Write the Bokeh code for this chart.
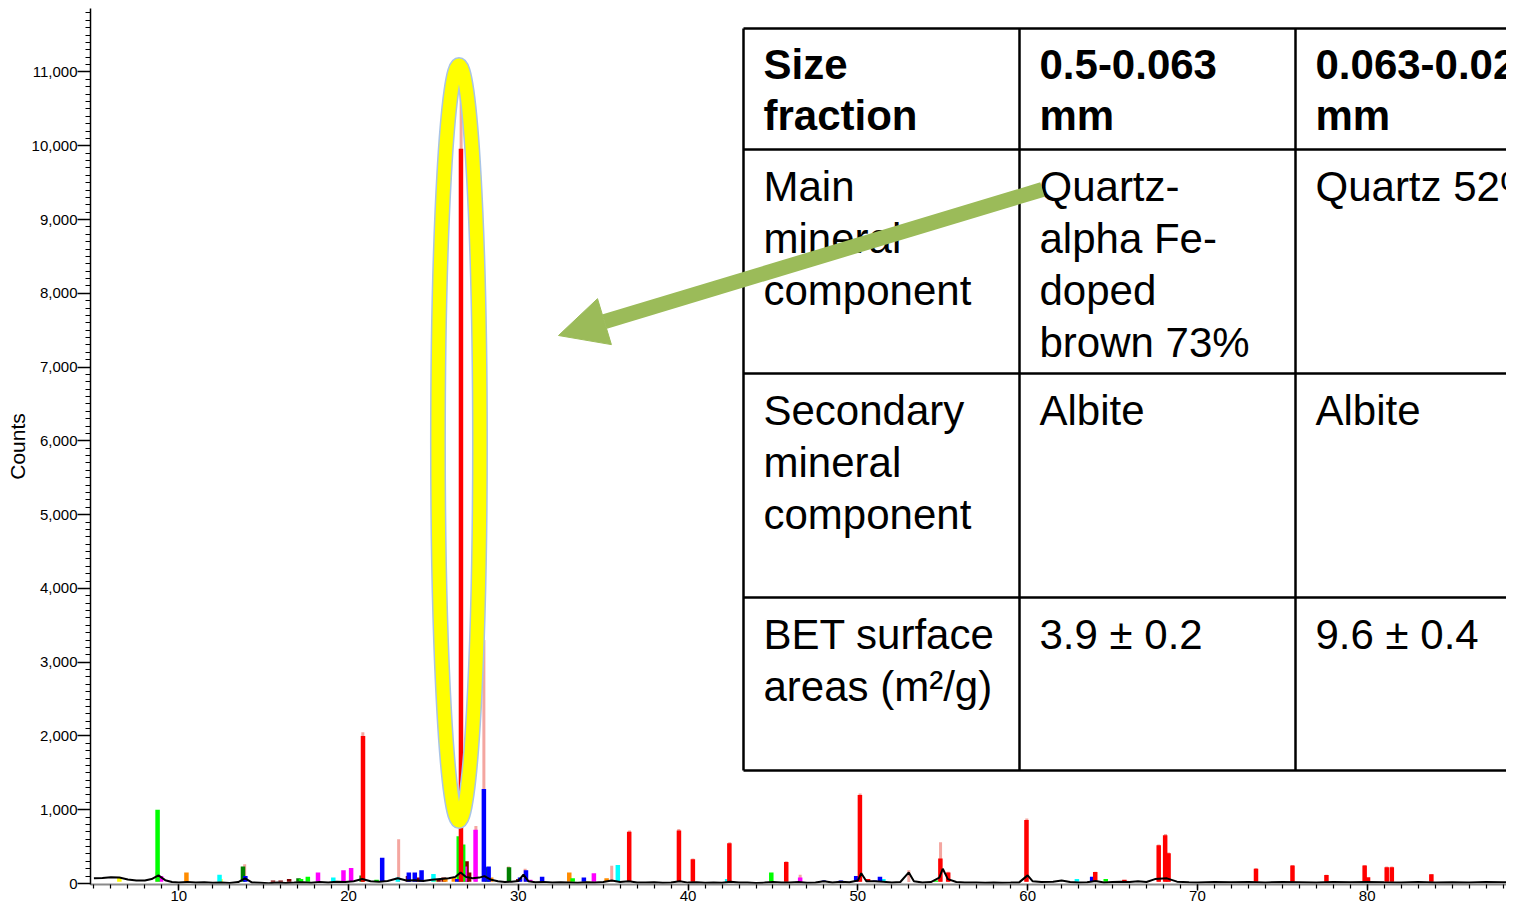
from bokeh.plotting import figure
from bokeh.models import (Range1d, SingleIntervalTicker, NumeralTickFormatter,
                          Arrow, NormalHead, ColumnDataSource)
from bokeh.core.properties import value
from bokeh.embed import file_html
from bokeh.resources import INLINE

# ---------------- data ----------------
# measured pattern (black trace), 2theta in degrees, counts
bg_2theta = [5.0, 5.5, 6.0, 6.5, 7.0, 7.5, 8.0, 8.4, 8.8, 9.2, 9.6, 10.0, 10.5, 11.0, 11.5,
             12.0, 12.5, 13.0, 13.5, 13.9, 14.3, 14.8, 15.3, 15.8, 16.3, 16.8, 17.3, 17.8,
             18.3, 18.8, 19.3, 19.8, 20.3, 20.8, 21.3, 21.8, 22.3, 22.9, 23.4, 23.9, 24.4,
             24.9, 25.4, 25.9, 26.3, 26.6, 26.9, 27.3, 27.7, 28.0, 28.4, 28.8, 29.2, 29.6,
             30.0, 30.3, 30.6, 31.0, 31.5, 32.0, 32.5, 33.0, 33.5, 34.0, 34.5, 35.0, 35.5,
             36.0, 36.5, 37.0, 37.5, 38.0, 38.5, 39.0, 39.5, 40.0, 40.5, 41.0, 41.5, 42.0,
             42.5, 43.0, 43.5, 44.0, 44.5, 45.0, 45.5, 46.0, 46.5, 47.0, 47.5, 48.0, 48.5,
             49.0, 49.5, 50.0, 50.2, 50.5, 51.0, 51.5, 52.0, 52.5, 53.0, 53.3, 53.8, 54.3,
             54.8, 55.0, 55.3, 55.8, 56.3, 57.0, 57.5, 58.0, 58.5, 59.0, 59.5, 60.0, 60.3,
             60.8, 61.5, 62.0, 62.5, 63.0, 63.5, 64.0, 64.5, 65.0, 65.5, 66.0, 66.5, 67.0,
             67.5, 68.2, 68.8, 69.5, 70.0, 71.0, 72.0, 73.0, 74.0, 75.0, 76.0, 77.0, 78.0,
             79.0, 80.0, 81.0, 82.0, 83.0, 84.0, 85.0, 86.0, 87.0, 88.0, 89.0]
bg_counts = [70, 75, 85, 80, 55, 40, 40, 60, 110, 45, 20, 15, 22, 12, 18,
             10, 15, 8, 20, 70, 15, 10, 5, 12, 8, 12, 18, 10,
             22, 14, 25, 20, 30, 60, 30, 25, 35, 70, 40, 45, 35,
             50, 60, 70, 90, 150, 90, 70, 80, 100, 50, 30, 20, 25,
             35, 120, 30, 18, 22, 12, 18, 15, 10, 18, 12, 20, 40,
             20, 30, 15, 12, 18, 10, 15, 30, 12, 18, 10, 14, 10,
             25, 12, 15, 8, 12, 20, 12, 15, 20, 10, 14, 30, 15,
             25, 18, 40, 140, 30, 30, 25, 15, 20, 150, 30, 15, 20,
             80, 200, 60, 20, 12, 15, 10, 14, 10, 12, 15, 110, 30,
             20, 25, 40, 20, 15, 18, 35, 15, 20, 25, 20, 30, 20,
             60, 70, 25, 18, 15, 20, 18, 22, 15, 20, 18, 14, 20,
             16, 22, 18, 15, 20, 14, 18, 15, 20, 16, 18]

# calculated profile (light red), peak positions and apex counts
prof_2theta = [8.72, 13.88, 20.84, 22.95, 26.63, 27.50, 27.97, 29.42, 30.40, 35.50,
               36.55, 39.45, 40.28, 42.45, 45.78, 46.60, 50.13, 53.00, 54.87, 55.32,
               59.95, 64.00, 67.72, 68.12, 68.30, 73.45, 75.60, 77.60, 79.85, 81.15,
               81.45, 83.80]
prof_counts = [160, 260, 2050, 600, 10800, 780, 3300, 230, 200, 240,
               720, 740, 340, 560, 300, 120, 1220, 180, 560, 160,
               880, 160, 530, 670, 420, 210, 250, 120, 250, 230,
               230, 130]

# reference sticks per phase (2theta, counts)
red_pos = [20.85, 26.62, 36.53, 39.46, 40.28, 42.43, 45.78, 50.12, 50.60, 54.86, 55.32,
           59.93, 63.98, 65.70, 67.72, 68.10, 68.30, 73.45, 75.60, 77.60, 79.85, 80.05,
           81.15, 81.45, 83.78]
red_cnt = [2000, 9960, 700, 720, 330, 545, 290, 1200, 60, 340, 150,
           860, 155, 50, 520, 655, 410, 200, 245, 115, 245, 85,
           220, 220, 125]
green_pos = [8.75, 17.20, 17.60, 21.65, 26.49, 26.75, 33.20, 44.90, 54.60, 64.60]
green_cnt = [1000, 60, 90, 50, 640, 530, 70, 150, 40, 60]
dkgreen_pos = [13.78, 17.05, 20.77, 28.16, 29.45]
dkgreen_cnt = [230, 70, 110, 220, 220]
blue_pos = [13.92, 21.98, 23.55, 23.90, 24.30, 26.40, 27.97, 28.25, 30.10, 30.45, 31.40,
            33.86, 48.00, 49.00, 49.90, 51.00, 51.30, 63.80]
blue_cnt = [100, 350, 150, 150, 180, 60, 1280, 230, 80, 180, 90,
            80, 40, 40, 100, 40, 90, 90]
magenta_pos = [8.95, 18.20, 19.70, 20.15, 22.00, 26.85, 27.48, 30.70, 34.45, 46.60]
magenta_cnt = [100, 150, 180, 210, 40, 230, 730, 50, 140, 80]
cyan_pos = [12.40, 19.10, 22.90, 25.00, 31.70, 35.86, 42.30, 51.50, 62.90]
cyan_cnt = [120, 80, 80, 130, 20, 250, 60, 60, 60]
yellow_pos = [6.50, 12.45, 25.05, 34.10]
yellow_cnt = [80, 60, 60, 30]
orange_pos = [10.45, 25.70, 26.20, 28.40, 33.00, 35.20]
orange_cnt = [150, 70, 80, 80, 150, 70]
dkred_pos = [15.55, 16.00, 16.50, 23.50, 24.10, 25.30, 25.60, 26.95, 27.10, 30.00]
dkred_cnt = [40, 40, 60, 100, 80, 50, 80, 300, 150, 60]

# inset table
table_header = ["Size\nfraction", "0.5-0.063\nmm", "0.063-0.02\nmm"]
row_main = ["Main\nmineral\ncomponent", "Quartz-\nalpha Fe-\ndoped\nbrown 73%", "Quartz 52%"]
row_secondary = ["Secondary\nmineral\ncomponent", "Albite", "Albite"]
row_bet = ["BET surface\nareas (m\u00b2/g)", "3.9 \u00b1 0.2", "9.6 \u00b1 0.4"]

# ---------------- layout (pixels of the picture) ----------------
W, H = 1506, 908
SX = 16.977        # px per degree
PX0 = 8.53         # pixel x of 0 deg
SY = 0.073773      # px per count
PY0 = 883.0        # pixel y of 0 counts
FRAME_L, FRAME_T, FRAME_B = 90, 8, 884

def X(px):
    return (px - PX0) / SX

def Y(py):
    return (PY0 - py) / SY

p = figure(width=W, height=H, output_backend="svg", toolbar_location=None,
           x_range=Range1d(X(FRAME_L), X(W)),
           y_range=Range1d(Y(FRAME_B), Y(FRAME_T)),
           min_border_left=FRAME_L, min_border_right=0,
           min_border_top=FRAME_T, min_border_bottom=H - FRAME_B)
p.outline_line_color = None
p.xgrid.visible = False
p.ygrid.visible = False
p.background_fill_color = "white"

FONT = "Liberation Sans"
xa = p.xaxis[0]
xa.ticker = SingleIntervalTicker(interval=10, num_minor_ticks=10)
xa.major_tick_out = 6
xa.major_tick_in = 0
xa.minor_tick_out = 4
xa.minor_tick_in = 0
xa.major_label_standoff = 0
xa.major_label_text_font = FONT
xa.major_label_text_font_size = "15px"
xa.major_label_text_color = "black"
xa.axis_line_color = "#8a8a8a"
xa.axis_line_width = 2
xa.major_tick_line_color = "black"
xa.major_tick_line_width = 1.5
xa.minor_tick_line_color = "black"
xa.minor_tick_line_width = 1.2

ya = p.yaxis[0]
ya.ticker = SingleIntervalTicker(interval=1000, num_minor_ticks=10)
ya.formatter = NumeralTickFormatter(format="0,0")
ya.major_tick_out = 13
ya.major_tick_in = 0
ya.minor_tick_out = 5
ya.minor_tick_in = 0
ya.major_label_standoff = 0
ya.major_label_text_font = FONT
ya.major_label_text_font_size = "15px"
ya.major_label_text_color = "black"
ya.axis_line_color = "black"
ya.axis_line_width = 1.5
ya.major_tick_line_width = 1.5
ya.minor_tick_line_width = 1.2
ya.axis_label = "Counts"
ya.axis_label_standoff = 0
ya.axis_label_text_font = FONT
ya.axis_label_text_font_size = "21px"
ya.axis_label_text_font_style = "normal"
ya.axis_label_text_color = "black"

# calculated profile
prof_src = ColumnDataSource(dict(x=prof_2theta, top=prof_counts, base=[20] * len(prof_2theta)))
p.segment(x0="x", y0="base", x1="x", y1="top", source=prof_src,
          line_color="#F08078", line_alpha=0.7, line_width=3)

# sticks
STICK_BASE = 25
phases = [
    (dkred_pos, dkred_cnt, "#800000"),
    (orange_pos, orange_cnt, "#FF8C00"),
    (yellow_pos, yellow_cnt, "#FFFF00"),
    (cyan_pos, cyan_cnt, "#00FFFF"),
    (magenta_pos, magenta_cnt, "#FF00FF"),
    (dkgreen_pos, dkgreen_cnt, "#008000"),
    (green_pos, green_cnt, "#00FF00"),
    (blue_pos, blue_cnt, "#0000FF"),
    (red_pos, red_cnt, "#FF0000"),
]
for pos, cnt, col in phases:
    src = ColumnDataSource(dict(x=pos, top=cnt, base=[STICK_BASE] * len(pos)))
    p.segment(x0="x", y0="base", x1="x", y1="top", source=src,
              line_color=col, line_width=4.5, line_cap="butt")

# measured trace
p.line(bg_2theta, bg_counts, line_color="black", line_width=2)

# highlight ellipse around the main quartz peak
main_peak = red_pos[red_cnt.index(max(red_cnt))]
ell_cx = main_peak - 2.0 / SX
ell_cy = Y(442.5)
ell_w = 42 / SX
ell_h = 756 / SY
p.ellipse(x=[ell_cx], y=[ell_cy], width=[ell_w], height=[ell_h],
          fill_color=None, line_color="#a8c4e6", line_width=16)
p.ellipse(x=[ell_cx], y=[ell_cy], width=[ell_w], height=[ell_h],
          fill_color=None, line_color="#FFFF00", line_width=13)

# table
col_edges = [743, 1019, 1295]
row_edges = [28, 149, 373, 597, 770]
TABLE_RIGHT = 1600
hsrc = ColumnDataSource(dict(x0=[X(743)] * len(row_edges), x1=[X(TABLE_RIGHT)] * len(row_edges),
                             y=[Y(r) for r in row_edges]))
p.segment(x0="x0", y0="y", x1="x1", y1="y", source=hsrc, line_color="black", line_width=2.5)
vsrc = ColumnDataSource(dict(x=[X(c) for c in col_edges],
                             y0=[Y(row_edges[0])] * len(col_edges),
                             y1=[Y(row_edges[-1])] * len(col_edges)))
p.segment(x0="x", y0="y0", x1="x", y1="y1", source=vsrc, line_color="black", line_width=2.5)

PAD = 20
HEAD_FIRST, HEAD_STEP = 36, 51     # text centre offsets from row top
BODY_FIRST, BODY_STEP = 37, 52

def cell_lines(cells, row_top, first, step):
    xs, ys, ts = [], [], []
    for ci, cell in enumerate(cells):
        for li, line in enumerate(cell.split("\n")):
            xs.append(X(col_edges[ci] + PAD))
            ys.append(Y(row_top + first + li * step))
            ts.append(line)
    return xs, ys, ts

hx, hy, ht = cell_lines(table_header, row_edges[0], HEAD_FIRST, HEAD_STEP)
p.text(x=hx, y=hy, text=ht, text_font=value(FONT), text_font_size="42px",
       text_font_style="bold", text_align="left", text_baseline="middle", text_color="black")
bx, by, bt = [], [], []
for ri, row in enumerate([row_main, row_secondary, row_bet]):
    a, b, c = cell_lines(row, row_edges[ri + 1], BODY_FIRST, BODY_STEP)
    bx += a; by += b; bt += c
p.text(x=bx, y=by, text=bt, text_font=value(FONT), text_font_size="42px",
       text_align="left", text_baseline="middle", text_color="black")

# arrow from table to the peak
ARROW_GREEN = "#9BBB59"
p.add_layout(Arrow(x_start=X(1042), y_start=Y(189), x_end=X(558), y_end=Y(335),
                   line_color=ARROW_GREEN, line_width=15,
                   end=NormalHead(size=48, fill_color=ARROW_GREEN, line_color=ARROW_GREEN)))

open("out.html", "w").write(file_html(p, INLINE))
